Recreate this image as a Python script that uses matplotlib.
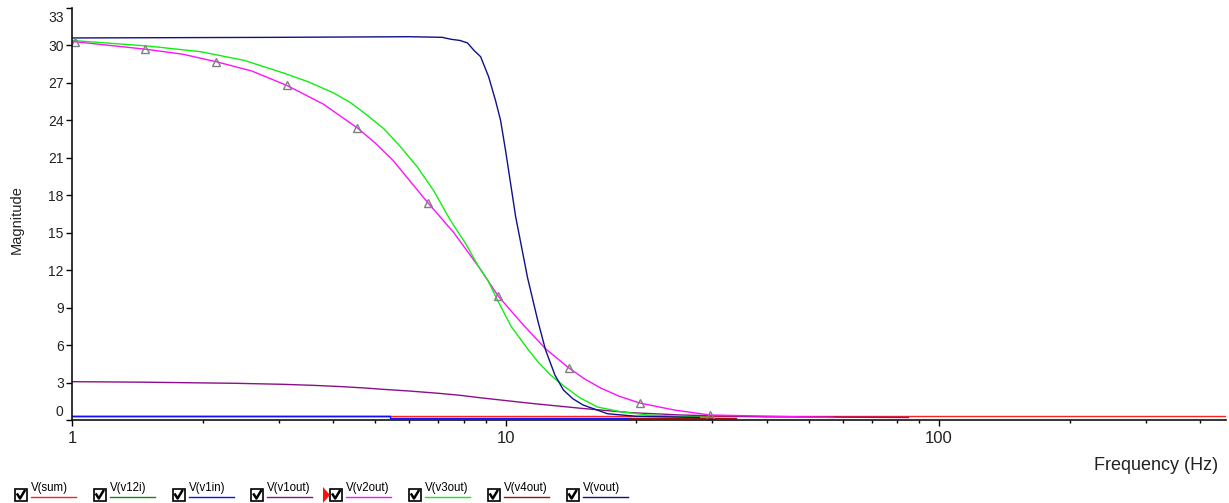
import matplotlib
matplotlib.use('Agg')
import matplotlib.pyplot as plt
import matplotlib.transforms as mtransforms
from matplotlib.lines import Line2D
from matplotlib.patches import Rectangle, Polygon
from matplotlib.ticker import FixedLocator, LogLocator, NullFormatter

plt.rcParams['font.family'] = ['Liberation Sans', 'DejaVu Sans']

# AC sweep traces (frequency in Hz, magnitude in V)
freq_sum = [1, 459]
mag_sum = [0.35, 0.35]

freq_v12i = [1, 5.4]
mag_v12i = [0.35, 0.35]

freq_v1in = [1, 5.4, 5.4, 19.4]
mag_v1in = [0.35, 0.35, 0.2, 0.2]

freq_v1out = [1, 1.45, 2.38, 3.05, 3.64, 4.2, 4.7, 5.2, 6.0, 7.0, 7.85, 8.75,
              11.4, 14.9, 19.4, 25.4, 40, 85]
mag_v1out = [3.07, 3.03, 2.94, 2.86, 2.77, 2.67, 2.57, 2.46, 2.32, 2.14, 1.98, 1.78,
             1.34, 0.94, 0.59, 0.4, 0.25, 0.2]

freq_v2out = [1.0, 1.016, 1.477, 1.8, 2.15, 2.6, 3.13, 3.8, 4.55, 5.0, 5.5, 6.62, 7.6,
              8.66, 9.63, 11.0, 12.37, 14.0, 15.2, 16.6, 18.3, 20.4, 24.5, 29.6, 57]
mag_v2out = [30.3, 30.3, 29.7, 29.3, 28.7, 27.95, 26.8, 25.3, 23.4, 22.2, 20.8, 17.4, 15.0,
             12.3, 9.9, 7.6, 5.7, 4.17, 3.3, 2.55, 1.9, 1.36, 0.8, 0.4, 0.2]
v2out_marks = [1, 2, 4, 6, 8, 11, 14, 17, 21, 23]

freq_v3out = [1, 1.5, 1.98, 2.5, 3.07, 3.5, 4.01, 4.4, 4.8, 5.25, 5.72, 6.25, 6.82,
              7.46, 8.1, 8.66, 9.1, 9.58, 10.3, 11.3, 11.92, 12.7, 13.54, 14.8, 16.3,
              18.5, 21.3, 30]
mag_v3out = [30.4, 29.95, 29.5, 28.8, 27.8, 27.1, 26.2, 25.4, 24.4, 23.3, 21.9, 20.3, 18.4,
             16.0, 14.1, 12.3, 11.2, 9.6, 7.5, 5.6, 4.6, 3.6, 2.8, 1.8, 1.04,
             0.65, 0.4, 0.2]

freq_v4out = [19.4, 34]
mag_v4out = [0.2, 0.2]

freq_vout = [1, 3, 6, 7.15, 7.47, 7.85, 8.17, 8.46, 8.76, 9.14, 9.48, 9.74, 10.0, 10.55,
             11.24, 11.86, 12.37, 13.0, 13.6, 14.3, 15.1, 17.2, 20, 28]
mag_vout = [30.6, 30.65, 30.7, 30.65, 30.5, 30.4, 30.2, 29.6, 29.1, 27.5, 25.6, 24.0, 21.6,
            16.3, 11.4, 8.0, 5.6, 3.6, 2.4, 1.7, 1.2, 0.5, 0.3, 0.2]

trace_names = ['V(sum)', 'V(v12i)', 'V(v1in)', 'V(v1out)', 'V(v2out)', 'V(v3out)',
               'V(v4out)', 'V(vout)']
trace_colors = ['#ff2020', '#108a10', '#1010ff', '#8a108a', '#ff10ff', '#10ee10',
                '#a01010', '#10108a']

traces = [(freq_sum, mag_sum), (freq_v12i, mag_v12i), (freq_v1in, mag_v1in),
          (freq_v1out, mag_v1out), (freq_v2out, mag_v2out), (freq_v3out, mag_v3out),
          (freq_v4out, mag_v4out), (freq_vout, mag_vout)]

W, H = 1229, 503
fig = plt.figure(figsize=(W / 100, H / 100), dpi=100)
fig.patch.set_facecolor('white')
ax = fig.add_axes([72 / W, 83 / H, (1226 - 72) / W, (420 - 8) / H])

for (f, m), c in zip(traces, trace_colors):
    ax.plot(f, m, color=c, lw=1.0)

ax.plot(freq_v2out, mag_v2out, ls='none', marker='^', markevery=v2out_marks,
        markersize=6, markerfacecolor='none', markeredgecolor='#808080',
        markeredgewidth=1.0)

ax.set_xscale('log')
ax.set_xlim(1, 459)
ax.set_ylim(0, 33)
ax.xaxis.set_major_locator(FixedLocator([1, 10, 100]))
ax.set_xticklabels(['1', '10', '100'])
ax.xaxis.set_minor_locator(LogLocator(base=10, subs=range(2, 10)))
ax.xaxis.set_minor_formatter(NullFormatter())
ax.set_yticks(range(0, 34, 3))

for s in ['top', 'right']:
    ax.spines[s].set_visible(False)
for s in ['left', 'bottom']:
    ax.spines[s].set_linewidth(1.2)
    ax.spines[s].set_color('#111111')

ax.tick_params(axis='x', which='major', length=4, width=1, pad=4, labelsize=12,
               labelcolor='#222222')
ax.tick_params(axis='x', which='minor', length=2, width=1)
ax.tick_params(axis='y', length=4, width=1, pad=2, labelsize=10, labelcolor='#222222')

# pull the end labels inward, away from the corners
ylabels = ax.get_yticklabels()
up = mtransforms.ScaledTranslation(0, 10 / 100, fig.dpi_scale_trans)
down = mtransforms.ScaledTranslation(0, -9 / 100, fig.dpi_scale_trans)
ylabels[0].set_transform(ylabels[0].get_transform() + up)
ylabels[-1].set_transform(ylabels[-1].get_transform() + down)

fig.text(17 / W, 1 - 220 / H, 'Magnitude', rotation=90, fontsize=10.5,
         ha='center', va='center', color='#222222')
fig.text(1218 / W, 1 - 465 / H, 'Frequency (Hz)', fontsize=13,
         ha='right', va='center', color='#222222')


def fx(x):
    return x / W


def fy(y):
    return 1 - y / H


# trace legend with check boxes
for i, (name, c) in enumerate(zip(trace_names, trace_colors)):
    bx = 15 + 78.8 * i
    fig.patches.append(Rectangle((fx(bx), fy(501)), 12 / W, 12 / H,
                                 transform=fig.transFigure, facecolor='white',
                                 edgecolor='black', lw=1.2))
    fig.lines.append(Line2D([fx(bx + 2.5), fx(bx + 5), fx(bx + 9.5)],
                            [fy(494.5), fy(498.5), fy(491)],
                            transform=fig.transFigure, color='black', lw=1.8))
    fig.text(fx(bx + 16), fy(487.5), name, fontsize=8.3, ha='left', va='center')
    fig.lines.append(Line2D([fx(bx + 16), fx(bx + 61)], [fy(497), fy(497)],
                            transform=fig.transFigure, color=c, lw=1.0))

# selected-trace flag
fig.patches.append(Polygon([(fx(323), fy(487)), (fx(323), fy(503)), (fx(330), fy(495))],
                           closed=True, transform=fig.transFigure,
                           facecolor='#ff1010', edgecolor='none'))

fig.savefig('out.png', dpi=100, facecolor='white')
plt.close()
